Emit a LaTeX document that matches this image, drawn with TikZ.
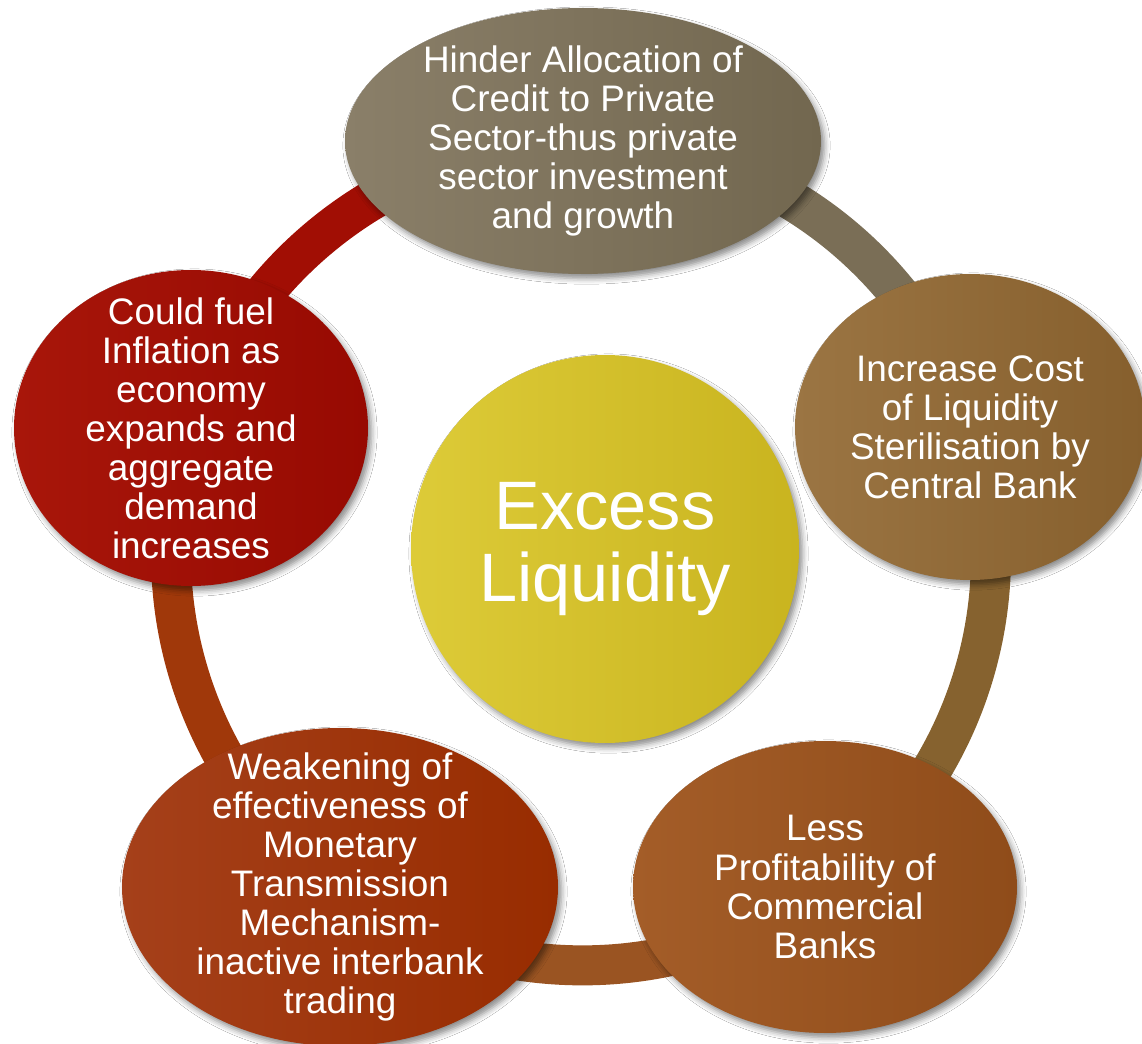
\documentclass[tikz,border=0pt]{standalone}
\usepackage{fontspec}
\setmainfont{Liberation Sans}
\usetikzlibrary{shapes.geometric}
\usetikzlibrary{shadows.blur}
\usetikzlibrary{backgrounds}

% bubble shades
\definecolor{creditA}{HTML}{8A7F69}
\definecolor{creditB}{HTML}{72674F}
\definecolor{costA}{HTML}{9B7543}
\definecolor{costB}{HTML}{865F2D}
\definecolor{profitA}{HTML}{A45D28}
\definecolor{profitB}{HTML}{8F4C1A}
\definecolor{monetA}{HTML}{A5401A}
\definecolor{monetB}{HTML}{982C00}
\definecolor{inflA}{HTML}{A8160A}
\definecolor{inflB}{HTML}{970A02}
\definecolor{liqA}{HTML}{DDCB38}
\definecolor{liqB}{HTML}{C9B41F}
% ring pieces
\definecolor{ringRed}{HTML}{A10E04}
\definecolor{ringGray}{HTML}{7A6E56}
\definecolor{ringBrown}{HTML}{86622F}
\definecolor{ringOrange}{HTML}{9A5422}
\definecolor{ringRust}{HTML}{A0380A}

\begin{document}
\begin{tikzpicture}[
    bubble/.style={ellipse, inner sep=-1cm, align=center, text=white,
        font=\fontsize{10.5}{11.1}\selectfont,
        blur shadow={shadow xshift=1pt, shadow yshift=-1.3pt,
            shadow blur radius=1.6pt, shadow opacity=45}},
    hub/.style={bubble, circle, font=\fontsize{19.5}{20.5}\selectfont},
    ring/.style={line width=.4cm,
        preaction={draw=black, opacity=.2,
            transform canvas={shift={(.03,-.04)}}}},
    arc/.style={bend left=36, looseness=.94}
]
    \useasboundingbox (0,0) rectangle (11.42,10.44);

    % centre
    \node[hub, left color=liqA, right color=liqB, minimum size=3.88cm]
        at (6.05,4.95) (excess) {Excess\\Liquidity};

    % outer bubbles, clockwise from the top
    \node[bubble, left color=creditA, right color=creditB,
        minimum width=4.76cm, minimum height=2.66cm] at (5.83,9.03) (credit)
        {Hinder Allocation of\\Credit to Private\\Sector-thus private\\sector investment\\and growth};
    \node[bubble, left color=costA, right color=costB,
        minimum width=3.5cm, minimum height=3.06cm] at (9.70,6.17) (cost)
        {Increase Cost\\of Liquidity\\Sterilisation by\\Central Bank};
    \node[bubble, left color=profitA, right color=profitB,
        minimum width=3.84cm, minimum height=2.92cm] at (8.25,1.57) (profit)
        {Less\\Profitability of\\Commercial\\Banks};
    \node[bubble, left color=monetA, right color=monetB,
        minimum width=4.36cm, minimum height=3.18cm] at (3.40,1.57) (monetary)
        {Weakening of\\effectiveness of\\Monetary\\Transmission\\Mechanism-\\inactive interbank\\trading};
    \node[bubble, left color=inflA, right color=inflB,
        minimum width=3.54cm, minimum height=3.16cm] at (1.91,6.16) (inflation)
        {Could fuel\\Inflation as\\economy\\expands and\\aggregate\\demand\\increases};

    % the ring behind everything
    \begin{pgfonlayer}{background}
        \fill[white] (0,0) rectangle (11.42,10.44);
        \draw[ring, draw=ringRed] (inflation.center) to[arc] (credit.center);
        \draw[ring, draw=ringGray] (credit.center) to[arc] (cost.center);
        \draw[ring, draw=ringBrown] (cost.center) to[arc] (profit.center);
        \draw[ring, draw=ringOrange] (profit.center) to[arc] (monetary.center);
        \draw[ring, draw=ringRust] (monetary.center) to[arc] (inflation.center);
    \end{pgfonlayer}
\end{tikzpicture}
\end{document}
